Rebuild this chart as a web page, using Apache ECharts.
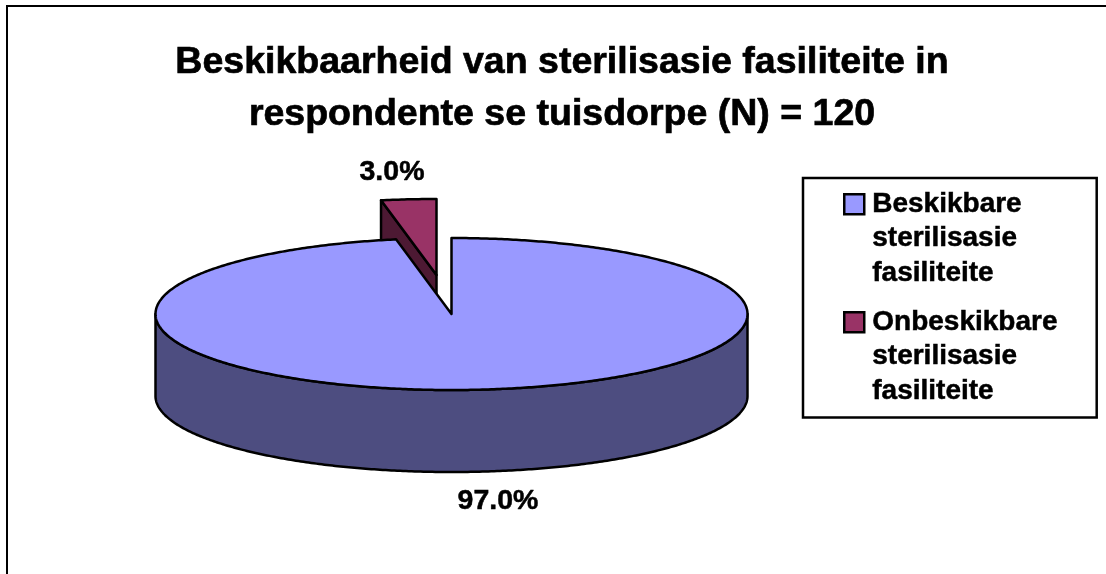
<!DOCTYPE html>
<html>
<head>
<meta charset="utf-8">
<style>html,body{margin:0;padding:0;background:#fff}#c{width:1106px;height:574px}</style>
<script src="https://cdn.jsdelivr.net/npm/echarts@6/dist/echarts.min.js"></script>
</head>
<body>
<div id="c"></div>
<script>
const titleText = 'Beskikbaarheid van sterilisasie fasiliteite in\nrespondente se tuisdorpe (N) = 120';
const categories = ['Beskikbare\nsterilisasie\nfasiliteite', 'Onbeskikbare\nsterilisasie\nfasiliteite'];
const shareValues = [97, 3];
const topColors = ['#9999FF', '#993366'];
const wallColors = ['#4D4D80', '#4D1933'];
const explodePx = [[0, 0], [-15, -39]];
const labelPos = [[498, 501], [392, 172]];
const depthPx = 82;
const FONT = '"Liberation Sans", Arial, sans-serif';

const total = shareValues.reduce((a, b) => a + b, 0);
const chart = echarts.init(document.getElementById('c'), null, {renderer: 'canvas'});

function arc(api, a0, a1, dx, dy) {
  const pts = [];
  const n = Math.max(2, Math.ceil(Math.abs(a1 - a0) / 0.01));
  for (let k = 0; k <= n; k++) {
    const a = a0 + (a1 - a0) * k / n;
    const p = api.coord([Math.sin(a), Math.cos(a)]);
    pts.push([p[0] + dx, p[1] + dy]);
  }
  return pts;
}
const lineStyle = (fill) => ({fill, stroke: '#000', lineWidth: 2.5, lineJoin: 'round'});

function makeSeries(i) {
  return {
    type: 'custom',
    name: categories[i],
    coordinateSystem: 'cartesian2d',
    z: i === 0 ? 3 : 2,
    silent: true,
    itemStyle: {color: topColors[i]},
    data: [[i, shareValues[i]]],
    renderItem(params, api) {
      const idx = api.value(0);
      let before = 0;
      for (let k = 0; k < idx; k++) before += shareValues[k];
      const a0 = before / total * 2 * Math.PI;
      const a1 = (before + api.value(1)) / total * 2 * Math.PI;
      const [dx, dy] = explodePx[idx];
      const c = api.coord([0, 0]);
      const apex = [c[0] + dx, c[1] + dy];
      const children = [];
      if (idx === 0) {
        const upper = arc(api, Math.max(a0, Math.PI / 2), Math.min(a1, Math.PI * 1.5), dx, dy);
        const lower = upper.map(p => [p[0], p[1] + depthPx]).reverse();
        children.push({type: 'polygon', shape: {points: upper.concat(lower)}, style: lineStyle(wallColors[idx])});
      } else {
        const rim = arc(api, a0, a0, dx, dy)[0];
        children.push({type: 'polygon', shape: {points: [apex, rim, [rim[0], rim[1] + depthPx], [apex[0], apex[1] + depthPx]]}, style: lineStyle(wallColors[idx])});
      }
      children.push({type: 'polygon', shape: {points: [apex].concat(arc(api, a0, a1, dx, dy))}, style: lineStyle(topColors[idx])});
      children.push({type: 'text', x: labelPos[idx][0], y: labelPos[idx][1], style: {
        text: api.value(1).toFixed(1) + '%', font: 'bold 28.5px ' + FONT, fill: '#000', align: 'center', verticalAlign: 'middle',
        stroke: '#000', lineWidth: 0.5
      }});
      return {type: 'group', children};
    }
  };
}

chart.setOption({
  animation: false,
  backgroundColor: '#fff',
  title: {
    text: titleText,
    left: 557, top: 32, textAlign: 'center',
    textStyle: {fontFamily: FONT, fontWeight: 'bold', fontSize: 37.5, lineHeight: 52, color: '#000', textBorderColor: '#000', textBorderWidth: 0.7}
  },
  grid: {left: 155.5, top: 238, width: 592, height: 152},
  xAxis: {type: 'value', min: -1, max: 1, show: false},
  yAxis: {type: 'value', min: -1, max: 1, show: false},
  legend: {
    orient: 'vertical', left: 803, top: 178,
    padding: [8, 39, 8, 40],
    itemGap: 12.5, itemWidth: 23, itemHeight: 103,
    icon: 'path://M0 0M0 7H20V27H0ZM23 103',
    data: categories,
    selectedMode: false,
    backgroundColor: '#fff', borderColor: '#000', borderWidth: 2.5,
    itemStyle: {borderColor: '#000', borderWidth: 2.5},
    textStyle: {fontFamily: FONT, fontWeight: 'bold', fontSize: 28, lineHeight: 34.5, color: '#000', textBorderColor: '#000', textBorderWidth: 0.5}
  },
  graphic: [{
    type: 'polyline', silent: true, z: 0,
    shape: {points: [[7, 574], [7, 6], [1106, 6]]},
    style: {fill: null, stroke: '#000', lineWidth: 2}
  }],
  series: categories.map((_, i) => makeSeries(i))
});
</script>
</body>
</html>
